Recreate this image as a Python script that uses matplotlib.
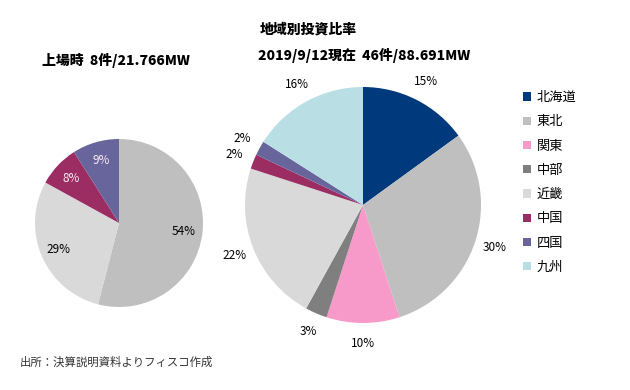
import matplotlib
matplotlib.use("Agg")
import matplotlib.pyplot as plt
from matplotlib.patches import Patch

plt.rcParams['font.family'] = ['Noto Sans CJK JP', 'DejaVu Sans']

# regions and colours (legend order)
regions = ["北海道", "東北", "関東", "中部", "近畿", "中国", "四国", "九州"]
colors = ["#003a7d", "#bfbfbf", "#f79ac9", "#7f7f7f", "#d9d9d9", "#9b2d63", "#67659c", "#b9dfe4"]

# at listing: 8 plants / 21.766MW
ipo_regions = ["東北", "近畿", "中国", "四国"]
ipo_share = [54, 29, 8, 9]
ipo_label_colors = ["black", "black", "#fde9f2", "#fde9f2"]

# as of 2019/9/12: 46 plants / 88.691MW
now_share = [15, 30, 10, 3, 22, 2, 2, 16]

W, H = 630, 390
fig = plt.figure(figsize=(W / 100, H / 100), dpi=100)


def pie_axes(cx, cy, r):
    ax = fig.add_axes([(cx - r) / W, 1 - (cy + r) / H, 2 * r / W, 2 * r / H])
    ax.axis("off")
    return ax


# left pie
ax1 = pie_axes(119, 223, 84)
ipo_colors = [colors[regions.index(r)] for r in ipo_regions]
wedges, texts, autos = ax1.pie(ipo_share, colors=ipo_colors, startangle=90, counterclock=False,
                               autopct=lambda p: f"{p:.0f}%", pctdistance=0.78,
                               radius=1, frame=False,
                               textprops={"fontsize": 8.5})
for t, c in zip(autos, ipo_label_colors):
    t.set_color(c)
ax1.set_xlim(-1, 1)
ax1.set_ylim(-1, 1)

# right pie
ax2 = pie_axes(363, 205, 118)
ax2.pie(now_share, colors=colors, startangle=90, counterclock=False,
        autopct=lambda p: f"{p:.0f}%", pctdistance=1.17,
        radius=1, frame=False, textprops={"fontsize": 8.5})
ax2.set_xlim(-1, 1)
ax2.set_ylim(-1, 1)

# titles
fig.text(308 / W, 1 - 30 / H, "地域別投資比率", ha="center", va="center",
         fontsize=10, fontweight="heavy")
fig.text(42 / W, 1 - 60 / H, "上場時  8件/21.766MW", ha="left", va="center",
         fontsize=10, fontweight="heavy")
fig.text(258 / W, 1 - 55 / H, "2019/9/12現在  46件/88.691MW", ha="left", va="center",
         fontsize=10, fontweight="heavy")

# legend
handles = [Patch(facecolor=c, edgecolor="none") for c in colors]
fig.legend(handles, regions, loc="upper left", bbox_to_anchor=(518 / W, 1 - 86 / H),
           frameon=False, fontsize=9.5, handlelength=0.6, handleheight=0.6,
           handletextpad=0.4, labelspacing=0.85, borderaxespad=0)

# source
fig.text(20 / W, 1 - 362 / H, "出所：決算説明資料よりフィスコ作成", ha="left", va="center",
         fontsize=8.2, color="#333333")

fig.savefig("out.png", dpi=100)
